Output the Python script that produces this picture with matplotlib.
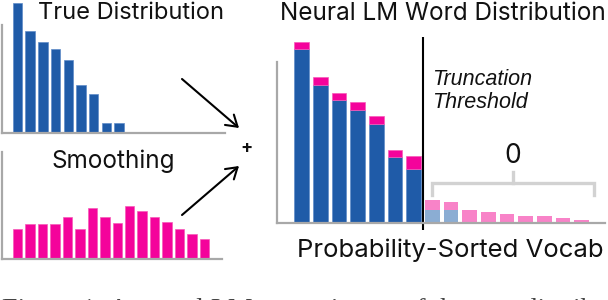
import matplotlib
matplotlib.use("Agg")
import matplotlib.pyplot as plt
import numpy as np

# ---------------- data ----------------
true_dist = [130, 102, 91, 84, 73, 48, 39, 10, 10]
smoothing = [30, 35, 35, 35, 42, 30, 51, 42, 36, 53, 48, 42, 37, 30, 25, 20]
lm_blue = [174, 138, 123, 113, 99, 66, 54]          # kept (above threshold), true part
lm_pink = [7, 8, 7, 8, 8, 7, 13]                    # kept, smoothing part
tail_blue = [13, 13, 0, 0, 0, 0, 0, 0, 0]           # truncated, true part
tail_pink = [10, 8, 13, 11, 9, 7, 7, 5, 3]          # truncated, smoothing part

title_true = "True Distribution"
title_smooth = "Smoothing"
title_lm = "Neural LM Word Distribution"
xlabel_lm = "Probability-Sorted Vocab"
trunc_lines = ["Truncation", "Threshold"]
zero_label = "0"
caption = "Figure 1: A neural LM as a mixture of the true distribution"

# ---------------- style ----------------
W, H = 608, 300
BLUE = "#1F5BA8"
PINK = "#F4039B"
LBLUE = "#8BADD3"
LPINK = "#F883C8"
AXC = "#A8A8A8"
FONT = "Inter"

fig = plt.figure(figsize=(W / 100, H / 100), dpi=100)


def fx(x):
    return x / W


def fy(y):
    return 1 - y / H


def make_axes(left, right, top, bottom):
    ax = fig.add_axes([fx(left), fy(bottom), (right - left) / W, (bottom - top) / H])
    ax.set_facecolor("none")
    for s in ["top", "right"]:
        ax.spines[s].set_visible(False)
    for s in ["left", "bottom"]:
        ax.spines[s].set_color(AXC)
        ax.spines[s].set_linewidth(1.6)
    ax.set_xticks([])
    ax.set_yticks([])
    ax.set_ylim(0, bottom - top)
    return ax


# ---- True distribution panel ----
ax1 = make_axes(2, 225, 0, 133)
step1 = 12.7
xmin1 = -(17.5 - 2) / step1
ax1.set_xlim(xmin1, xmin1 + 223 / step1)
ax1.bar(np.arange(len(true_dist)), true_dist, width=0.75, color=BLUE,
        edgecolor="#5F8CC8", linewidth=0.5)
ax1.spines["left"].set_bounds(0, 108)

# ---- Smoothing panel ----
ax2 = make_axes(2, 222, 140, 259)
step2 = 12.47
xmin2 = -(17.5 - 2) / step2
ax2.set_xlim(xmin2, xmin2 + 220 / step2)
ax2.bar(np.arange(len(smoothing)), smoothing, width=0.76, color=PINK,
        edgecolor="#F75CB9", linewidth=0.5)
ax2.spines["left"].set_bounds(0, 107)

# ---- Neural LM panel ----
ax3 = make_axes(277, 605, 30, 223)
step3 = 18.67
xmin3 = -(301.7 - 277) / step3
ax3.set_xlim(xmin3, xmin3 + 328 / step3)
n_keep = len(lm_blue)
xk = np.arange(n_keep)
xt = np.arange(n_keep, n_keep + len(tail_pink))
ax3.bar(xk, lm_blue, width=0.78, color=BLUE, edgecolor="#5F8CC8", linewidth=0.5)
ax3.bar(xk, lm_pink, bottom=lm_blue, width=0.78, color=PINK,
        edgecolor="#F75CB9", linewidth=0.5)
ax3.bar(xt, tail_blue, width=0.78, color=LBLUE, linewidth=0)
ax3.bar(xt, tail_pink, bottom=tail_blue, width=0.78, color=LPINK, linewidth=0)
ax3.spines["left"].set_bounds(0, 161)

thr = n_keep - 0.5
ax3.plot([thr, thr], [-7, 186], color="black", lw=1.5, clip_on=False,
         solid_capstyle="butt")

# bracket over truncated tokens
bx0, bx1 = n_keep, n_keep + len(tail_pink) - 1 + 0.65
bmid = (bx0 + bx1) / 2
gray = "#D2D2D2"
ax3.plot([bx0, bx0, bx1, bx1], [28, 40, 40, 28], color=gray, lw=2.4,
         solid_joinstyle="miter", clip_on=False)
ax3.plot([bmid, bmid], [40, 51], color=gray, lw=2.4, clip_on=False)
ax3.text(bmid, 60, zero_label, ha="center", va="baseline", fontsize=19,
         family=FONT, color="#111111")

for line, yb in zip(trunc_lines, [138, 115]):
    ax3.text(thr + 0.5, yb, line, ha="left", va="baseline", fontsize=15.5,
             family="Liberation Sans", style="italic", color="#111111")

# ---------------- titles / labels ----------------
fig.text(fx(131), fy(19), title_true, ha="center", va="baseline",
         fontsize=17, family=FONT, color="#111111")
fig.text(fx(113), fy(168), title_smooth, ha="center", va="baseline",
         fontsize=17.5, family=FONT, color="#111111")
fig.text(fx(443), fy(20), title_lm, ha="center", va="baseline",
         fontsize=17.5, family=FONT, color="#111111")
fig.text(fx(450), fy(257), xlabel_lm, ha="center", va="baseline",
         fontsize=18.5, family=FONT, color="#111111")
fig.text(fx(247), fy(148), "+", ha="center", va="center",
         fontsize=13, family=FONT, color="#111111", weight="bold")

# arrows
arrow_kw = dict(arrowstyle="->,head_length=0.55,head_width=0.35", lw=1.5,
                color="black", shrinkA=0, shrinkB=0)
fig.add_artist(matplotlib.patches.FancyArrowPatch(
    (fx(182), fy(79)), (fx(239), fy(128)), transform=fig.transFigure,
    mutation_scale=14, **arrow_kw))
fig.add_artist(matplotlib.patches.FancyArrowPatch(
    (fx(182), fy(215)), (fx(239), fy(166)), transform=fig.transFigure,
    mutation_scale=14, **arrow_kw))

# cut-off caption
fig.text(fx(2), fy(298), caption, ha="left", va="top", fontsize=20,
         family="Liberation Serif", color="#444444")

fig.savefig("out.png", dpi=100)
